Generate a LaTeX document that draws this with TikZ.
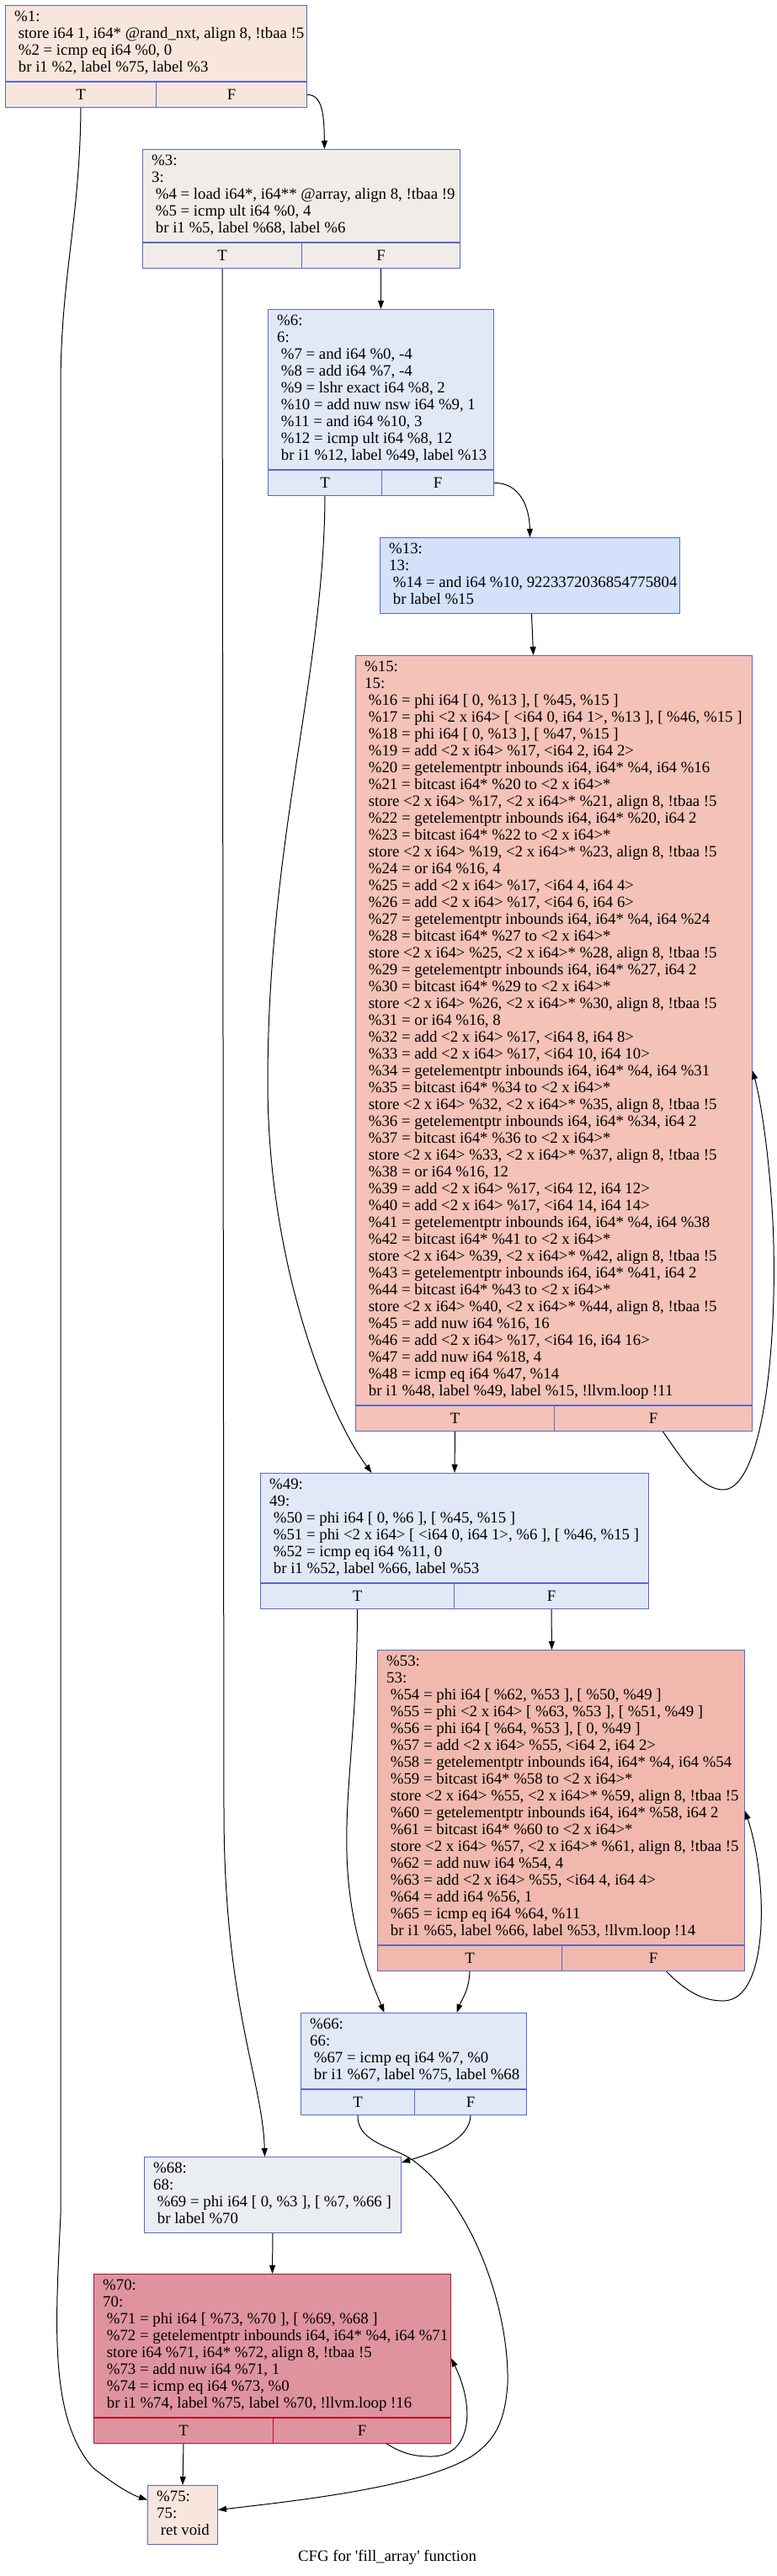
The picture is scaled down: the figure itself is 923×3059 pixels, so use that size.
\documentclass[tikz,border=0pt]{standalone}
\usepackage{fontspec}
\setmainfont{Liberation Serif}
\usepackage{xcolor}
\usepackage{tikz}
\usetikzlibrary{arrows.meta,positioning}

\definecolor{lineblue}{HTML}{5668D4}
\definecolor{linered}{HTML}{B70D28}
\definecolor{peach}{HTML}{F8E6DD}
\definecolor{greyish}{HTML}{F2ECE9}
\definecolor{paleblue}{HTML}{E2E9F6}
\definecolor{skyblue}{HTML}{D4E1FB}
\definecolor{salmonhot}{HTML}{F4C2B6}
\definecolor{salmonwarm}{HTML}{F1B9AD}
\definecolor{slategrey}{HTML}{EAEEF2}
\definecolor{rosehot}{HTML}{DF939F}

\newcommand{\cfgfont}{\fontsize{18.8}{20}\selectfont}
\newcommand{\cfgind}{\hspace*{4.7pt}}

\begin{document}
\begin{tikzpicture}[x=1pt, y=-1pt,
    block/.style={rectangle, draw=lineblue, line width=1pt, anchor=north west, inner sep=0pt},
    code/.style={anchor=north west, align=left, inner xsep=11pt, inner ysep=5pt, font=\cfgfont},
    cell/.style={rectangle, draw=lineblue, line width=1pt, minimum height=30pt, inner sep=0pt, font=\cfgfont},
    arrow/.style={line width=1pt, -{Triangle[length=10pt, width=7pt]}}
]
\useasboundingbox (0,0) rectangle (923,3059);

% Entry block
\node[block, fill=peach, minimum width=358pt, minimum height=90pt] (b1) at (6,6) {};
\node[code] at (b1.north west) {\strut\%1:\\
\cfgind store i64 1, i64* @rand\_nxt, align 8, !tbaa !5\\
\cfgind\%2 = icmp eq i64 \%0, 0\\
\cfgind br i1 \%2, label \%75, label \%3};
\node[cell, fill=peach, anchor=north west, minimum width=179pt] (b1T) at (b1.south west) {T};
\node[cell, fill=peach, anchor=north east, minimum width=179pt] (b1F) at (b1.south east) {F};

% Load of the array
\node[block, fill=greyish, minimum width=377pt, minimum height=110pt] (b3) at (169,177) {};
\node[code] at (b3.north west) {\strut\%3:\\
3:\\
\cfgind\%4 = load i64*, i64** @array, align 8, !tbaa !9\\
\cfgind\%5 = icmp ult i64 \%0, 4\\
\cfgind br i1 \%5, label \%68, label \%6};
\node[cell, fill=greyish, anchor=north west, minimum width=189pt] (b3T) at (b3.south west) {T};
\node[cell, fill=greyish, anchor=north east, minimum width=188pt] (b3F) at (b3.south east) {F};

% Trip count
\node[block, fill=paleblue, minimum width=268pt, minimum height=190pt] (b6) at (318,367) {};
\node[code] at (b6.north west) {\strut\%6:\\
6:\\
\cfgind\%7 = and i64 \%0, -4\\
\cfgind\%8 = add i64 \%7, -4\\
\cfgind\%9 = lshr exact i64 \%8, 2\\
\cfgind\%10 = add nuw nsw i64 \%9, 1\\
\cfgind\%11 = and i64 \%10, 3\\
\cfgind\%12 = icmp ult i64 \%8, 12\\
\cfgind br i1 \%12, label \%49, label \%13};
\node[cell, fill=paleblue, anchor=north west, minimum width=135pt] (b6T) at (b6.south west) {T};
\node[cell, fill=paleblue, anchor=north east, minimum width=133pt] (b6F) at (b6.south east) {F};

% Vector preheader
\node[block, fill=skyblue, minimum width=356pt, minimum height=90pt] (b13) at (451,638) {};
\node[code] at (b13.north west) {\strut\%13:\\
13:\\
\cfgind\%14 = and i64 \%10, 9223372036854775804\\
\cfgind br label \%15};

% Vector body
\node[block, fill=salmonhot, minimum width=471pt, minimum height=890pt] (b15) at (422,778) {};
\node[code] at (b15.north west) {\strut\%15:\\
15:\\
\cfgind\%16 = phi i64 [ 0, \%13 ], [ \%45, \%15 ]\\
\cfgind\%17 = phi <2 x i64> [ <i64 0, i64 1>, \%13 ], [ \%46, \%15 ]\\
\cfgind\%18 = phi i64 [ 0, \%13 ], [ \%47, \%15 ]\\
\cfgind\%19 = add <2 x i64> \%17, <i64 2, i64 2>\\
\cfgind\%20 = getelementptr inbounds i64, i64* \%4, i64 \%16\\
\cfgind\%21 = bitcast i64* \%20 to <2 x i64>*\\
\cfgind store <2 x i64> \%17, <2 x i64>* \%21, align 8, !tbaa !5\\
\cfgind\%22 = getelementptr inbounds i64, i64* \%20, i64 2\\
\cfgind\%23 = bitcast i64* \%22 to <2 x i64>*\\
\cfgind store <2 x i64> \%19, <2 x i64>* \%23, align 8, !tbaa !5\\
\cfgind\%24 = or i64 \%16, 4\\
\cfgind\%25 = add <2 x i64> \%17, <i64 4, i64 4>\\
\cfgind\%26 = add <2 x i64> \%17, <i64 6, i64 6>\\
\cfgind\%27 = getelementptr inbounds i64, i64* \%4, i64 \%24\\
\cfgind\%28 = bitcast i64* \%27 to <2 x i64>*\\
\cfgind store <2 x i64> \%25, <2 x i64>* \%28, align 8, !tbaa !5\\
\cfgind\%29 = getelementptr inbounds i64, i64* \%27, i64 2\\
\cfgind\%30 = bitcast i64* \%29 to <2 x i64>*\\
\cfgind store <2 x i64> \%26, <2 x i64>* \%30, align 8, !tbaa !5\\
\cfgind\%31 = or i64 \%16, 8\\
\cfgind\%32 = add <2 x i64> \%17, <i64 8, i64 8>\\
\cfgind\%33 = add <2 x i64> \%17, <i64 10, i64 10>\\
\cfgind\%34 = getelementptr inbounds i64, i64* \%4, i64 \%31\\
\cfgind\%35 = bitcast i64* \%34 to <2 x i64>*\\
\cfgind store <2 x i64> \%32, <2 x i64>* \%35, align 8, !tbaa !5\\
\cfgind\%36 = getelementptr inbounds i64, i64* \%34, i64 2\\
\cfgind\%37 = bitcast i64* \%36 to <2 x i64>*\\
\cfgind store <2 x i64> \%33, <2 x i64>* \%37, align 8, !tbaa !5\\
\cfgind\%38 = or i64 \%16, 12\\
\cfgind\%39 = add <2 x i64> \%17, <i64 12, i64 12>\\
\cfgind\%40 = add <2 x i64> \%17, <i64 14, i64 14>\\
\cfgind\%41 = getelementptr inbounds i64, i64* \%4, i64 \%38\\
\cfgind\%42 = bitcast i64* \%41 to <2 x i64>*\\
\cfgind store <2 x i64> \%39, <2 x i64>* \%42, align 8, !tbaa !5\\
\cfgind\%43 = getelementptr inbounds i64, i64* \%41, i64 2\\
\cfgind\%44 = bitcast i64* \%43 to <2 x i64>*\\
\cfgind store <2 x i64> \%40, <2 x i64>* \%44, align 8, !tbaa !5\\
\cfgind\%45 = add nuw i64 \%16, 16\\
\cfgind\%46 = add <2 x i64> \%17, <i64 16, i64 16>\\
\cfgind\%47 = add nuw i64 \%18, 4\\
\cfgind\%48 = icmp eq i64 \%47, \%14\\
\cfgind br i1 \%48, label \%49, label \%15, !llvm.loop !11};
\node[cell, fill=salmonhot, anchor=north west, minimum width=236pt] (b15T) at (b15.south west) {T};
\node[cell, fill=salmonhot, anchor=north east, minimum width=235pt] (b15F) at (b15.south east) {F};

% Middle block
\node[block, fill=paleblue, minimum width=461pt, minimum height=130pt] (b49) at (309,1749) {};
\node[code] at (b49.north west) {\strut\%49:\\
49:\\
\cfgind\%50 = phi i64 [ 0, \%6 ], [ \%45, \%15 ]\\
\cfgind\%51 = phi <2 x i64> [ <i64 0, i64 1>, \%6 ], [ \%46, \%15 ]\\
\cfgind\%52 = icmp eq i64 \%11, 0\\
\cfgind br i1 \%52, label \%66, label \%53};
\node[cell, fill=paleblue, anchor=north west, minimum width=230pt] (b49T) at (b49.south west) {T};
\node[cell, fill=paleblue, anchor=north east, minimum width=231pt] (b49F) at (b49.south east) {F};

% Remainder loop
\node[block, fill=salmonwarm, minimum width=436pt, minimum height=350pt] (b53) at (448,1959) {};
\node[code] at (b53.north west) {\strut\%53:\\
53:\\
\cfgind\%54 = phi i64 [ \%62, \%53 ], [ \%50, \%49 ]\\
\cfgind\%55 = phi <2 x i64> [ \%63, \%53 ], [ \%51, \%49 ]\\
\cfgind\%56 = phi i64 [ \%64, \%53 ], [ 0, \%49 ]\\
\cfgind\%57 = add <2 x i64> \%55, <i64 2, i64 2>\\
\cfgind\%58 = getelementptr inbounds i64, i64* \%4, i64 \%54\\
\cfgind\%59 = bitcast i64* \%58 to <2 x i64>*\\
\cfgind store <2 x i64> \%55, <2 x i64>* \%59, align 8, !tbaa !5\\
\cfgind\%60 = getelementptr inbounds i64, i64* \%58, i64 2\\
\cfgind\%61 = bitcast i64* \%60 to <2 x i64>*\\
\cfgind store <2 x i64> \%57, <2 x i64>* \%61, align 8, !tbaa !5\\
\cfgind\%62 = add nuw i64 \%54, 4\\
\cfgind\%63 = add <2 x i64> \%55, <i64 4, i64 4>\\
\cfgind\%64 = add i64 \%56, 1\\
\cfgind\%65 = icmp eq i64 \%64, \%11\\
\cfgind br i1 \%65, label \%66, label \%53, !llvm.loop !14};
\node[cell, fill=salmonwarm, anchor=north west, minimum width=219pt] (b53T) at (b53.south west) {T};
\node[cell, fill=salmonwarm, anchor=north east, minimum width=217pt] (b53F) at (b53.south east) {F};

% Exit check
\node[block, fill=paleblue, minimum width=268pt, minimum height=90pt] (b66) at (357,2390) {};
\node[code] at (b66.north west) {\strut\%66:\\
66:\\
\cfgind\%67 = icmp eq i64 \%7, \%0\\
\cfgind br i1 \%67, label \%75, label \%68};
\node[cell, fill=paleblue, anchor=north west, minimum width=135pt] (b66T) at (b66.south west) {T};
\node[cell, fill=paleblue, anchor=north east, minimum width=133pt] (b66F) at (b66.south east) {F};

% Scalar preheader
\node[block, fill=slategrey, minimum width=305pt, minimum height=90pt] (b68) at (171,2561) {};
\node[code] at (b68.north west) {\strut\%68:\\
68:\\
\cfgind\%69 = phi i64 [ 0, \%3 ], [ \%7, \%66 ]\\
\cfgind br label \%70};

% Scalar loop
\node[block, draw=linered, fill=rosehot, minimum width=424pt, minimum height=170pt] (b70) at (111,2700) {};
\node[code] at (b70.north west) {\strut\%70:\\
70:\\
\cfgind\%71 = phi i64 [ \%73, \%70 ], [ \%69, \%68 ]\\
\cfgind\%72 = getelementptr inbounds i64, i64* \%4, i64 \%71\\
\cfgind store i64 \%71, i64* \%72, align 8, !tbaa !5\\
\cfgind\%73 = add nuw i64 \%71, 1\\
\cfgind\%74 = icmp eq i64 \%73, \%0\\
\cfgind br i1 \%74, label \%75, label \%70, !llvm.loop !16};
\node[cell, draw=linered, fill=rosehot, anchor=north west, minimum width=213pt] (b70T) at (b70.south west) {T};
\node[cell, draw=linered, fill=rosehot, anchor=north east, minimum width=211pt] (b70F) at (b70.south east) {F};

% Return
\node[block, fill=peach, minimum width=83pt, minimum height=70pt] (b75) at (175,2951) {};
\node[code] at (b75.north west) {\strut\%75:\\
75:\\
\cfgind ret void};

% Caption
\node[font=\cfgfont] (title) at (460,3037) {CFG for \textquotesingle fill\_array\textquotesingle{} function};

% Branches
\draw[arrow] (b1T.south) .. controls (95,260) and (72,330) .. (72,460) -- (72,2630)
    .. controls (66,2760) and (58,2870) .. (110,2930) .. controls (135,2950) and (155,2962) .. ([yshift=18pt]b75.west);
\draw[arrow] (b1F.east) .. controls (384,112) and (385,140) .. ([xshift=27.5pt]b3.north);
\draw[arrow] (b3T.south) -- (266,2150) .. controls (266,2380) and (312,2470) .. ([xshift=-9.5pt]b68.north);
\draw[arrow] (b3F.south) -- (b6.north);
\draw[arrow] (b6T.south) .. controls (385,800) and (318,1000) .. (318,1286)
    .. controls (318,1500) and (390,1680) .. ([xshift=-98.5pt]b49.north);
\draw[arrow] (b6F.east) .. controls (616,573) and (629,600) .. (b13.north);
\draw[arrow] ([xshift=2pt]b13.south) -- ([xshift=-24.5pt]b15.north);
\draw[arrow] (b15T.south) -- (b49.north);
\draw[arrow] ([xshift=11.5pt]b15F.south) .. controls (815,1740) and (835,1769) .. (859,1769)
    .. controls (905,1769) and (925,1600) .. (918,1450) .. controls (913,1360) and (902,1300) .. ([yshift=-48pt]b15.east);
\draw[arrow] (b49T.south) .. controls (424,2050) and (410,2120) .. (412,2200)
    .. controls (414,2290) and (440,2350) .. ([xshift=-35pt]b66.north);
\draw[arrow] (b49F.south) -- ([xshift=-11pt]b53.north);
\draw[arrow] ([xshift=15.5pt]b53F.south) .. controls (815,2365) and (835,2376) .. (859,2376)
    .. controls (915,2376) and (912,2230) .. ([yshift=-16pt]b53.east);
\draw[arrow] (b53T.south) .. controls (557,2365) and (548,2375) .. ([xshift=51pt]b66.north);
\draw[arrow] (b66T.south) .. controls (424,2545) and (470,2550) .. (490,2565)
    .. controls (560,2615) and (605,2740) .. (603,2830) .. controls (600,2880) and (585,2900) .. (560,2917)
    .. controls (500,2955) and (330,2972) .. ([yshift=6pt]b75.east);
\draw[arrow] (b66F.south) .. controls (558,2540) and (520,2555) .. ([yshift=-7pt]b68.north east);
\draw[arrow] (b68.south) -- (b70.north);
\draw[arrow] (b70T.south) -- (b75.north);
\draw[arrow] ([xshift=29.5pt]b70F.south) .. controls (480,2915) and (495,2917) .. (512,2917)
    .. controls (560,2917) and (565,2860) .. ([yshift=-15pt]b70.east);

\end{tikzpicture}
\end{document}
